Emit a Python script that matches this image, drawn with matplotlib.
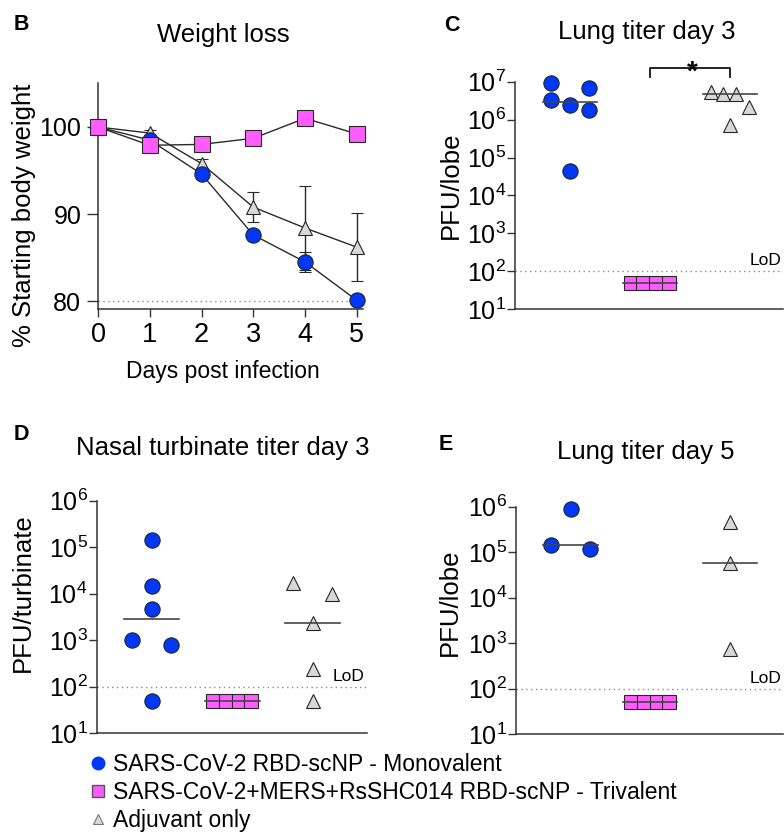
import numpy as np
import matplotlib
matplotlib.use('Agg')
import matplotlib.pyplot as plt
from matplotlib.lines import Line2D
import matplotlib.transforms as mtransforms
from matplotlib.ticker import FixedLocator, FuncFormatter, NullLocator

plt.rcParams['font.family'] = ['Liberation Sans', 'DejaVu Sans']
plt.rcParams['mathtext.default'] = 'regular'

# ---------------- data ----------------
days = [0, 1, 2, 3, 4, 5]
wt_mono = [100, 98.5, 94.6, 87.6, 84.5, 80.1]
wt_mono_err = [0, 0.4, 0.6, 0.6, 1.1, 0.4]
wt_tri = [100, 97.9, 98.0, 98.7, 101.0, 99.2]
wt_tri_err = [0, 0.3, 0.4, 0.4, 0.4, 0.4]
wt_adj = [100, 99.3, 95.8, 90.8, 88.4, 86.2]
wt_adj_err = [0, 0.3, 0.5, 1.7, 4.8, 3.9]

lung3_mono = [3.3e6, 6.7e6, 9.0e6, 1.8e6, 2.5e6, 4.3e4]
lung3_tri = [50, 50, 50, 50]
lung3_adj = [5.5e6, 4.8e6, 4.8e6, 2.15e6, 7.4e5]

nasal3_mono = [1.43e5, 1.5e4, 4.8e3, 1.0e3, 7.8e2, 50]
nasal3_tri = [50, 50, 50, 50]
nasal3_adj = [1.7e4, 1.0e4, 2.4e3, 245, 50]

lung5_mono = [8.9e5, 1.15e5, 1.44e5]
lung5_tri = [50, 50, 50, 50]
lung5_adj = [4.7e5, 5.9e4, 7.4e2]

lod = 100
legend_labels = ['SARS-CoV-2 RBD-scNP - Monovalent',
                 'SARS-CoV-2+MERS+RsSHC014 RBD-scNP - Trivalent',
                 'Adjuvant only']

# ---------------- style ----------------
BLUE = '#0037F8'
PINK = '#FF5CFF'
GRAY = '#D8D8D8'
EDGE = '#262626'
AXC = '#333333'

W, H = 784, 834
fig = plt.figure(figsize=(W / 100, H / 100), dpi=100)


def rect(l, t, r, b):
    return [l / W, 1 - b / H, (r - l) / W, (b - t) / H]


def fx(x):
    return x / W


def fy(y):
    return 1 - y / H


def style_axes(ax):
    for s in ['top', 'right']:
        ax.spines[s].set_visible(False)
    for s in ['left', 'bottom']:
        ax.spines[s].set_color(AXC)
        ax.spines[s].set_linewidth(1.1)


def swarm_offsets(values, half_width=0.24, bin_dec=0.45):
    logs = np.log10(np.asarray(values, dtype=float))
    order = np.argsort(logs, kind='stable')
    rows, current, start = [], [], None
    for i in order:
        if current and logs[i] - start <= bin_dec:
            current.append(i)
        else:
            if current:
                rows.append(current)
            current, start = [i], logs[i]
    rows.append(current)
    offs = np.zeros(len(values))
    for row in rows:
        n = len(row)
        if n == 1:
            continue
        row_sorted = sorted(row, key=lambda i: -logs[i])
        xs = np.linspace(-half_width, half_width, n)
        for x, i in zip(xs, row_sorted):
            offs[i] = x
    return offs


# ---------------- panel B ----------------
axB = fig.add_axes(rect(98, 83, 363, 309))
style_axes(axB)
series = [(wt_adj, wt_adj_err, '^', GRAY, 10, 3),
          (wt_mono, wt_mono_err, 'o', BLUE, 11, 4),
          (wt_tri, wt_tri_err, 's', PINK, 11, 5)]
for vals, errs, mk, col, ms, z in series:
    cont = axB.errorbar(days, vals, yerr=errs, color='#2a2a2a', lw=1,
                        ecolor='#2a2a2a', elinewidth=1, capsize=4.5, capthick=1,
                        marker=mk, mfc=col, mec=EDGE, mew=0.8, ms=ms, zorder=z)
    for art in cont.get_children():
        art.set_clip_on(False)
axB.plot([0, 5], [80, 80], color='#8a8a8a', lw=1, ls=(0, (1, 2.5)), zorder=1)
axB.set_xlim(0, 5.12)
axB.set_ylim(79.1, 105.05)
axB.set_xticks(days)
axB.set_yticks([80, 90, 100])
axB.tick_params(axis='y', length=8, width=1, pad=4, labelsize=18, color=AXC)
axB.tick_params(axis='x', length=6, width=1, pad=3.5, labelsize=19.5, color=AXC)
fig.text(fx(223), fy(41.7), 'Weight loss', ha='center', va='baseline', fontsize=18.5)
fig.text(fx(223.3), fy(378.3), 'Days post infection', ha='center', va='baseline', fontsize=16.5)
fig.text(fx(24.5), fy(215.8), '% Starting body weight', ha='center', va='center',
         rotation=90, fontsize=18.5)
fig.text(fx(13.3), fy(30), 'B', ha='left', va='baseline', fontsize=15.5, fontweight='bold')


# ---------------- titer panels ----------------
def titer_panel(box, groups, top_exp, title, title_xy, ylabel, ylabel_xy,
                letter, letter_xy):
    ax = fig.add_axes(rect(*box))
    style_axes(ax)
    for gi, (vals, mk, col, ms) in enumerate(groups):
        xc = gi + 1
        xs = xc + swarm_offsets(vals)
        ax.plot(xs, vals, ls='none', marker=mk, mfc=col, mec=EDGE, mew=0.8,
                ms=ms, zorder=3, clip_on=False)
        med = np.median(vals)
        ax.plot([xc - 0.34, xc + 0.34], [med, med], color='#454545', lw=1.2,
                zorder=4, clip_on=False)
    ax.set_yscale('log')
    ax.set_ylim(10, 10 ** top_exp)
    ax.set_xlim(0.32, 3.67)
    ax.set_xticks([])
    ax.yaxis.set_major_locator(FixedLocator([10.0 ** k for k in range(1, top_exp + 1)]))
    ax.yaxis.set_minor_locator(NullLocator())
    ax.yaxis.set_major_formatter(FuncFormatter(
        lambda v, p: r'$\mathregular{10^{%d}}$' % int(round(np.log10(v)))))
    ax.tick_params(axis='y', length=5.5, width=1, pad=1, labelsize=18, color=AXC)
    ax.axhline(lod, color='#8a8a8a', lw=1, ls=(0, (1, 2.5)), zorder=1)
    ax.annotate('LoD', xy=(1, lod), xycoords=('axes fraction', 'data'),
                xytext=(-1.5, 4.5), textcoords='offset points', ha='right',
                va='baseline', fontsize=12.5, annotation_clip=False)
    fig.text(fx(title_xy[0]), fy(title_xy[1]), title, ha='center', va='baseline',
             fontsize=18.5)
    fig.text(fx(ylabel_xy[0]), fy(ylabel_xy[1]), ylabel, ha='center', va='center',
             rotation=90, fontsize=18.5)
    fig.text(fx(letter_xy[0]), fy(letter_xy[1]), letter, ha='left', va='baseline',
             fontsize=15.5, fontweight='bold')
    return ax


axC = titer_panel((515.3, 81.7, 783.5, 309.3),
                  [(lung3_mono, 'o', BLUE, 11), (lung3_tri, 's', PINK, 9.5),
                   (lung3_adj, '^', GRAY, 10)],
                  7, 'Lung titer day 3', (647, 39.3), 'PFU/lobe', (451, 185),
                  'C', (443.7, 30.7))
# significance bracket
trC = mtransforms.blended_transform_factory(axC.transData, axC.transAxes)
axC.plot([2, 2, 3, 3], [1.019, 1.059, 1.059, 1.019], color='#111111', lw=1.3,
         transform=trC, clip_on=False)
axC.text(2.53, 1.01, '*', transform=trC, ha='center', va='baseline', fontsize=20,
         fontweight='bold')

axD = titer_panel((96.7, 500.7, 366.7, 733.3),
                  [(nasal3_mono, 'o', BLUE, 11), (nasal3_tri, 's', PINK, 9.5),
                   (nasal3_adj, '^', GRAY, 10)],
                  6, 'Nasal turbinate titer day 3', (222.5, 455), 'PFU/turbinate',
                  (23.3, 592.5), 'D', (13.3, 440))

axE = titer_panel((516.3, 506.7, 783.5, 734.3),
                  [(lung5_mono, 'o', BLUE, 11), (lung5_tri, 's', PINK, 9.5),
                   (lung5_adj, '^', GRAY, 10)],
                  6, 'Lung titer day 5', (645.3, 459.3), 'PFU/lobe', (449.5, 602.5),
                  'E', (438.7, 450))

# ---------------- legend ----------------
handles = [Line2D([], [], ls='none', marker='o', mfc=BLUE, mec=BLUE, ms=9),
           Line2D([], [], ls='none', marker='s', mfc=PINK, mec='#555555', mew=1, ms=9),
           Line2D([], [], ls='none', marker='^', mfc=GRAY, mec='#777777', mew=0.8, ms=7)]
fig.legend(handles, legend_labels, loc='upper left',
           bbox_to_anchor=(fx(86.5), fy(753)), frameon=False, fontsize=16.5,
           handlelength=1.0, handletextpad=0.15, labelspacing=0.22,
           borderpad=0, borderaxespad=0)

fig.savefig('out.png', dpi=100, facecolor='white')
